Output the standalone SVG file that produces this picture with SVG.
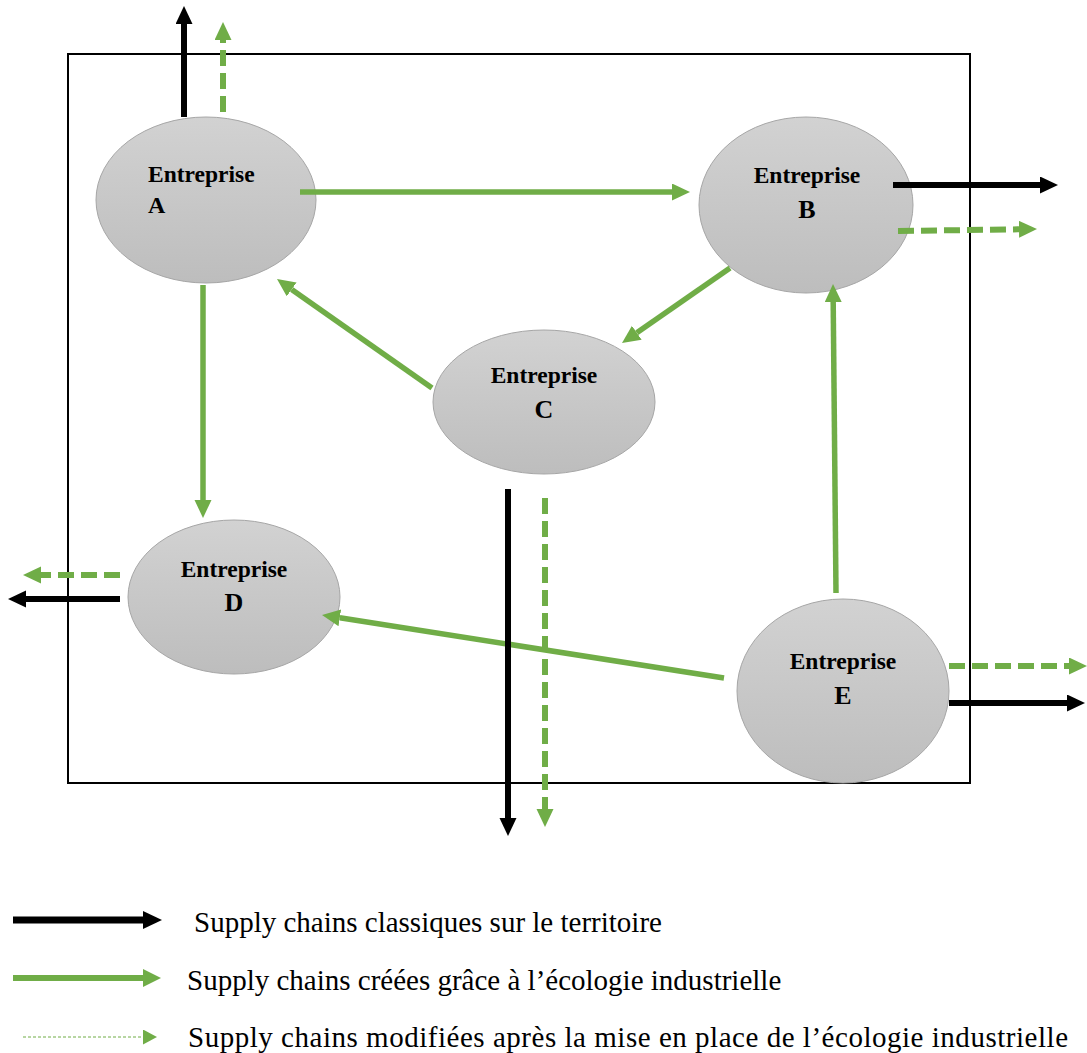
<svg xmlns="http://www.w3.org/2000/svg" width="1087" height="1053" viewBox="0 0 1087 1053">
<style>
.node ellipse{fill:url(#g);stroke:#A6A6A6;stroke-width:1}
.t{font-family:"Liberation Serif","Times New Roman",serif;font-weight:bold;fill:#000}
.e{font-size:23.5px}
.l{font-size:26px}
.k{stroke:#000;stroke-width:6;fill:none}
.gs{stroke:#70AD47;stroke-width:5.5;fill:none}
.gd{stroke:#70AD47;stroke-width:6;fill:none;stroke-dasharray:16 7}
.leg{font-family:"Liberation Serif","Times New Roman",serif;font-size:29px;fill:#000}
</style>
<defs>
<linearGradient id="g" x1="0" y1="0" x2="0" y2="1">
<stop offset="0" stop-color="#D2D2D2"/>
<stop offset="1" stop-color="#BDBDBD"/>
</linearGradient>
<marker id="hk" markerUnits="userSpaceOnUse" markerWidth="20" markerHeight="20" refX="0" refY="8.5" orient="auto"><path d="M0,0 L18,8.5 L0,17 z" fill="#000"/></marker>
<marker id="hg" markerUnits="userSpaceOnUse" markerWidth="20" markerHeight="20" refX="0" refY="8.5" orient="auto"><path d="M0,0 L18,8.5 L0,17 z" fill="#70AD47"/></marker>
<marker id="hkl" markerUnits="userSpaceOnUse" markerWidth="22" markerHeight="22" refX="0" refY="9" orient="auto"><path d="M0,0 L19,9 L0,18 z" fill="#000"/></marker>
<marker id="hgl" markerUnits="userSpaceOnUse" markerWidth="22" markerHeight="22" refX="0" refY="9" orient="auto"><path d="M0,0 L18,9 L0,18 z" fill="#70AD47"/></marker>
<marker id="hgs" markerUnits="userSpaceOnUse" markerWidth="18" markerHeight="18" refX="0" refY="7.5" orient="auto"><path d="M0,0 L14,7.5 L0,15 z" fill="#70AD47"/></marker>
</defs>
<rect width="1087" height="1053" fill="#fff"/>
<rect id="frame" x="68" y="54" width="902" height="729" fill="none" stroke="#000" stroke-width="2"/>

<g id="nodeA" class="node">
<ellipse cx="206" cy="200" rx="110" ry="83"/>
<text class="t e" x="148" y="182">Entreprise</text>
<text class="t" x="148" y="213" font-size="24">A</text>
</g>
<g id="nodeB" class="node">
<ellipse cx="806" cy="205" rx="107" ry="88"/>
<text class="t e" x="807" y="183" text-anchor="middle">Entreprise</text>
<text class="t l" x="807" y="218" text-anchor="middle">B</text>
</g>
<g id="nodeC" class="node">
<ellipse cx="544" cy="402" rx="111" ry="72"/>
<text class="t e" x="544" y="383" text-anchor="middle">Entreprise</text>
<text class="t l" x="544" y="418" text-anchor="middle">C</text>
</g>
<g id="nodeD" class="node">
<ellipse cx="234" cy="597" rx="106" ry="77"/>
<text class="t e" x="234" y="577" text-anchor="middle">Entreprise</text>
<text class="t l" x="234" y="611" text-anchor="middle">D</text>
</g>
<g id="nodeE" class="node">
<ellipse cx="843" cy="691" rx="106" ry="92"/>
<text class="t e" x="843" y="669" text-anchor="middle">Entreprise</text>
<text class="t l" x="843" y="704" text-anchor="middle">E</text>
</g>

<g id="connectors">
<line class="k" x1="184" y1="117" x2="184" y2="24" marker-end="url(#hk)"/>
<line class="gd" x1="223" y1="112" x2="223" y2="40" marker-end="url(#hg)"/>
<line class="gs" x1="300" y1="192" x2="672" y2="192" marker-end="url(#hg)"/>
<line class="gs" x1="203" y1="285" x2="203" y2="500" marker-end="url(#hg)"/>
<line class="gs" x1="432" y1="388" x2="291.7" y2="289.4" marker-end="url(#hg)"/>
<line class="gs" x1="730" y1="268" x2="636.8" y2="332.7" marker-end="url(#hg)"/>
<line class="gs" x1="836" y1="593" x2="833.2" y2="302" marker-end="url(#hg)"/>
<line class="gs" x1="724" y1="678" x2="339.8" y2="617.8" marker-end="url(#hg)"/>
<line class="k" x1="508" y1="489" x2="508" y2="818" marker-end="url(#hk)"/>
<line class="gd" x1="545" y1="498" x2="545" y2="809" marker-end="url(#hg)"/>
<line class="k" x1="893" y1="185" x2="1040" y2="185" marker-end="url(#hk)"/>
<line class="gd" x1="898" y1="231" x2="1019" y2="229.3" marker-end="url(#hg)"/>
<line class="gd" x1="120" y1="575" x2="41" y2="575" marker-end="url(#hg)"/>
<line class="k" x1="120" y1="599" x2="26" y2="599" marker-end="url(#hk)"/>
<line class="gd" x1="949" y1="666" x2="1069" y2="666" marker-end="url(#hg)"/>
<line class="k" x1="949" y1="703" x2="1067" y2="703" marker-end="url(#hk)"/>
</g>

<g id="legend">
<line x1="13" y1="920" x2="143" y2="920" stroke="#000" stroke-width="7" marker-end="url(#hkl)"/>
<line x1="13" y1="978" x2="143" y2="978" stroke="#70AD47" stroke-width="6" marker-end="url(#hgl)"/>
<line x1="23" y1="1037" x2="143" y2="1037" stroke="#70AD47" stroke-width="1" stroke-dasharray="3 2" marker-end="url(#hgs)"/>
<text class="leg" x="194" y="932">Supply chains classiques sur le territoire</text>
<text class="leg" x="187" y="990">Supply chains créées grâce à l’écologie industrielle</text>
<text class="leg" x="188" y="1047" textLength="880" lengthAdjust="spacing">Supply chains modifiées après la mise en place de l’écologie industrielle</text>
</g>
</svg>
